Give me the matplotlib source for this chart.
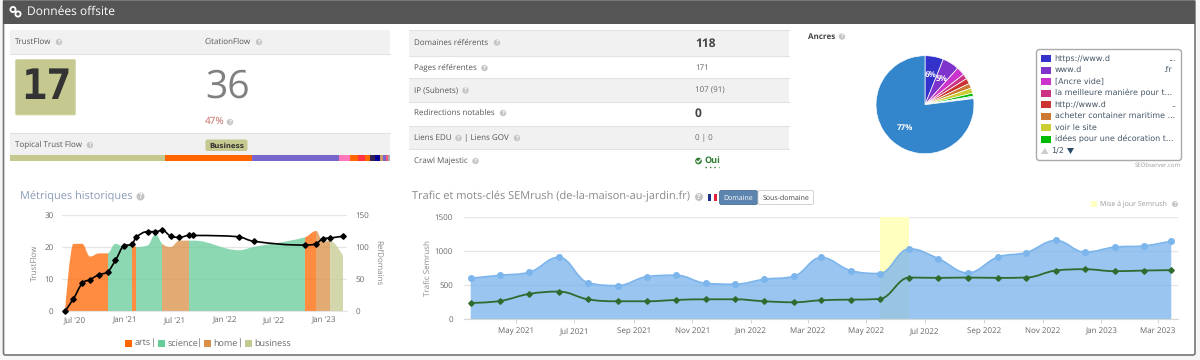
import matplotlib
matplotlib.use("Agg")
import matplotlib.pyplot as plt
import matplotlib.dates as mdates
from matplotlib.patches import Rectangle, Circle, FancyBboxPatch, PathPatch, Polygon
from matplotlib.path import Path
import pandas as pd

plt.rcParams['font.family'] = ['Open Sans', 'DejaVu Sans']
plt.rcParams['text.hinting'] = 'no_hinting'
plt.rcParams['text.hinting_factor'] = 1

# top left block
ttf_values = [465, 260, 263, 32, 25, 20, 15, 15, 15, 10, 8, 7, 5]
ttf_colors = ['#c6c98f', '#ff6600', '#7766cc', '#ff77bb', '#ff6600', '#ff3344', '#ff6600',
              '#332255', '#000099', '#cc9966', '#7766cc', '#ff5577', '#aaaaaa']

# table in the middle
table_labels = ['Domaines référents', 'Pages référentes', 'IP (Subnets)', 'Redirections notables']
table_values = ['118', '171', '107 (91)', '0']

# anchors
anchor_labels = ['https://www.d', 'www.d', '[Ancre vide]', 'la meilleure manière pour t...',
                 'http://www.d', 'acheter container maritime ...', 'voir le site',
                 'idées pour une décoration t...']
anchor_share = [6.1, 5.5, 2.8, 1.7, 1.8, 1.6, 1.7, 1.0, 0.4, 0.2, 0.2, 77.0]
anchor_colors = ['#3333cc', '#7d33cc', '#cc33cc', '#cc3385', '#cc3333', '#cc7a33', '#cccc33',
                 '#00bb00', '#33ccaa', '#33cccc', '#33aacc', '#3385cc']

# historic metrics
hist_dates = ['2020-05-25', '2020-06-25', '2020-07-27', '2020-08-25', '2020-09-27', '2020-10-28',
              '2020-11-26', '2020-12-29', '2021-01-26', '2021-02-10', '2021-03-25', '2021-04-22',
              '2021-05-17', '2021-06-17', '2021-07-19', '2021-08-22', '2021-09-08', '2022-02-24',
              '2022-04-17', '2022-10-22', '2022-12-03', '2022-12-28', '2023-01-22', '2023-03-13']
trustflow = [0, 21, 21, 17, 18, 18, 21, 20, 21, 20, 20.5, 24, 21, 20, 22, 22, 22, 19, 20, 23, 25, 21.5, 22, 17]
refdomains = [0, 19, 43, 49, 57, 61, 79, 102, 104, 115, 124, 124, 126, 117, 115, 118, 118, 116, 109, 103, 105, 113, 114, 117]
hist_topics = ['arts'] * 5 + ['science'] * 3 + ['arts'] + ['science'] * 3 + ['home'] * 3 + \
              ['science'] * 4 + ['arts'] + ['home'] * 2 + ['business']
topic_names = ['arts', 'science', 'home', 'business']
topic_colors = {'arts': '#ff6600', 'science': '#66cc99', 'home': '#d98f45', 'business': '#c6c98f'}
hist_ticks = ['2020-07-01', '2021-01-01', '2021-07-01', '2022-01-01', '2022-07-01', '2023-01-01']

# semrush
sem_dates = pd.date_range('2021-03-15', periods=25, freq=pd.DateOffset(months=1))
sem_traffic = [598, 642, 686, 906, 534, 490, 622, 642, 524, 510, 583, 627, 902, 711, 667, 1029,
               887, 676, 907, 975, 1152, 980, 1054, 1073, 1142]
sem_keywords = [235, 265, 368, 402, 289, 260, 260, 279, 289, 289, 260, 245, 275, 284, 294, 608,
                603, 608, 603, 608, 711, 730, 701, 711, 716]
sem_update = ['2022-05-15', '2022-06-15']
sem_ticks = pd.date_range('2021-05-01', '2023-03-01', freq=pd.DateOffset(months=2))


def spline_path(x, y, base=None):
    # same kind of curve as highcharts spline
    n = len(x)
    left = [(x[i], y[i]) for i in range(n)]
    right = [(x[i], y[i]) for i in range(n)]
    for i in range(1, n - 1):
        lx = (1.5 * x[i] + x[i - 1]) / 2.5
        ly = (1.5 * y[i] + y[i - 1]) / 2.5
        rx = (1.5 * x[i] + x[i + 1]) / 2.5
        ry = (1.5 * y[i] + y[i + 1]) / 2.5
        corr = (ry - ly) * (rx - x[i]) / (rx - lx) + y[i] - ry
        ly += corr
        ry += corr
        if ly > y[i] and ly > y[i - 1]:
            ly = max(y[i], y[i - 1])
            ry = 2 * y[i] - ly
        elif ly < y[i] and ly < y[i - 1]:
            ly = min(y[i], y[i - 1])
            ry = 2 * y[i] - ly
        if ry > y[i] and ry > y[i + 1]:
            ry = max(y[i], y[i + 1])
            ly = 2 * y[i] - ry
        elif ry < y[i] and ry < y[i + 1]:
            ry = min(y[i], y[i + 1])
            ly = 2 * y[i] - ry
        left[i] = (lx, ly)
        right[i] = (rx, ry)
    verts = [(x[0], y[0])]
    codes = [Path.MOVETO]
    for i in range(1, n):
        verts += [right[i - 1], left[i], (x[i], y[i])]
        codes += [Path.CURVE4] * 3
    if base is not None:
        verts += [(x[-1], base), (x[0], base), (x[0], y[0])]
        codes += [Path.LINETO, Path.LINETO, Path.CLOSEPOLY]
    return Path(verts, codes)


W, H = 1200, 360
fig = plt.figure(figsize=(W / 100, H / 100), dpi=100, facecolor='#f6f6f6')


def px_axes(x0, y0, x1, y1, **kw):
    a = fig.add_axes([x0 / W, 1 - y1 / H, (x1 - x0) / W, (y1 - y0) / H], **kw)
    a.patch.set_alpha(0)
    return a


bg = fig.add_axes([0, 0, 1, 1], zorder=0)
bg.set_xlim(0, W)
bg.set_ylim(H, 0)
bg.axis('off')
top = fig.add_axes([0, 0, 1, 1], zorder=5)
top.set_xlim(0, W)
top.set_ylim(H, 0)
top.axis('off')


def txt(x, y, s, size=5.8, color='#555555', ha='left', weight='normal', **kw):
    return top.text(x, y, s, fontsize=size, color=color, ha=ha, va='center', weight=weight, **kw)


def qmark(x, y, r=3.2):
    top.add_patch(Circle((x, y), r, fc='#c4c4c4', ec='none'))
    top.text(x, y, '?', fontsize=r * 1.35, color='white', ha='center', va='center', weight='bold')


def rect(x0, y0, x1, y1, color, z=1):
    bg.add_patch(Rectangle((x0, y0), x1 - x0, y1 - y0, fc=color, ec='none', zorder=z))


# panel and header
bg.add_patch(FancyBboxPatch((3.5, 0), 1191.5, 355, boxstyle='round,pad=0,rounding_size=2',
                            fc='white', ec='#777777', lw=1.2, zorder=0))
rect(3, 0, 1195, 24, '#555555')
rect(3, 0, 1195, 1, '#777777')
top.add_patch(Circle((13, 9.5), 2.6, fc='none', ec='white', lw=1.3))
top.add_patch(Circle((18, 14), 2.6, fc='none', ec='white', lw=1.3))
txt(27, 12, 'Données offsite', size=8.3, color='white')

# trust flow block
rect(10, 30, 390, 53.5, '#f1f1f1')
rect(10, 133, 390, 155, '#f1f1f1')
bg.plot([10, 390], [53.5, 53.5], color='#e2e2e2', lw=0.8)
bg.plot([10, 390], [133, 133], color='#e2e2e2', lw=0.8)
txt(15, 42, 'TrustFlow')
qmark(59, 42)
txt(205, 42, 'CitationFlow')
qmark(259, 42)
bg.add_patch(FancyBboxPatch((15.5, 59.5), 60, 55.5, boxstyle='round,pad=0,rounding_size=1.5',
                            fc='#c6c98f', ec='#d5d7ad', lw=0.6, zorder=2))
top.text(46, 87, '17', fontsize=30, color='#333333', ha='center', va='center', weight='bold',
         family='DejaVu Sans Mono')
txt(205, 87, '36', size=28, color='#808080')
txt(205, 121, '47%', size=7, color='#c46a64')
qmark(230, 122)
txt(15, 145, 'Topical Trust Flow')
qmark(90, 145)
bg.add_patch(FancyBboxPatch((205.5, 139.5), 42, 11.5, boxstyle='round,pad=0,rounding_size=2',
                            fc='#c6c98f', ec='none', zorder=2))
top.text(226.5, 145.5, 'Business', fontsize=5.4, color='#333333', ha='center', va='center', weight='bold',
         family='DejaVu Sans')

ax_ttf = px_axes(10, 155, 390, 160.5)
left_edge = 0
for v, c in zip(ttf_values, ttf_colors):
    ax_ttf.barh(0, v, left=left_edge, height=1, color=c, linewidth=0)
    left_edge += v
ax_ttf.set_xlim(0, left_edge)
ax_ttf.set_ylim(-0.5, 0.5)
ax_ttf.axis('off')

# middle table
rows = [(30, 56), (78, 101.5), (126, 149)]
for y0, y1 in rows:
    rect(409, y0, 789, y1, '#f1f1f1')
    bg.plot([409, 789], [y1, y1], color='#e2e2e2', lw=0.8)
    bg.plot([409, 789], [y0, y0], color='#e2e2e2', lw=0.8)
row_y = [42.5, 68, 90.5, 113]
label_q = [497, 484.5, 465.5, 503]
for yy, lab, val, qx in zip(row_y, table_labels, table_values, label_q):
    txt(414.5, yy, lab)
    qmark(qx, yy)
    big = val in ('118', '0')
    txt(695, yy + 1 if big else yy, val, size=8.4 if big else 5.8, weight='bold' if big else 'normal',
        color='#444444' if big else '#666666')
txt(414.5, 138, 'Liens EDU')
qmark(458.5, 138)
txt(464.5, 138, '| Liens GOV')
qmark(517, 138)
txt(695, 138, '0 | 0', color='#666666')
txt(414.5, 161, 'Crawl Majestic')
qmark(475.5, 161)
top.add_patch(Circle((698.5, 161), 3.3, fc='#2e7d32', ec='none'))
top.plot([696.8, 698.1, 700.4], [161, 162.5, 159.6], color='white', lw=0.9)
txt(704.5, 160.5, 'Oui', size=6.4, color='#2e7d32', weight='bold')
top.plot([704.5, 719], [167, 167], color='#2e7d32', lw=1, ls=(0, (1, 2.2)))

# anchors pie
txt(808, 36.5, 'Ancres', size=5.8, color='#444444', weight='bold')
qmark(842, 36.5)
ax_pie = px_axes(876, 55.7, 974, 153.7, zorder=3)
ax_pie.pie(anchor_share, colors=anchor_colors, startangle=90, counterclock=False, radius=1,
           wedgeprops={'edgecolor': 'white', 'linewidth': 0.5},
           autopct=lambda p: '%d%%' % int(p) if p > 5 else '', pctdistance=0.62,
           textprops={'color': 'white', 'fontsize': 6, 'weight': 'bold'})
ax_pie.set_xlim(-1.0, 1.0)
ax_pie.set_ylim(-1.0, 1.0)

top.add_patch(FancyBboxPatch((1036.5, 49.5), 145, 111, boxstyle='round,pad=0,rounding_size=3',
                             fc='white', ec='#aaaaaa', lw=1))
leg_y = [58.3, 70, 81.3, 93, 104.3, 116, 127.3, 139]
for yy, lab, c in zip(leg_y, anchor_labels, anchor_colors):
    top.add_patch(Rectangle((1041, yy - 3.5), 10, 7, fc=c, ec='none'))
    top.text(1054.7, yy, lab, fontsize=5.5, color='#445566', ha='left', va='center', family='DejaVu Sans')
top.text(1176, 58.3, '...', fontsize=5.5, color='#445566', ha='right', va='center', family='DejaVu Sans')
top.text(1172, 70, '.fr', fontsize=5.5, color='#445566', ha='right', va='center', family='DejaVu Sans')
top.text(1176, 104.3, '..', fontsize=5.5, color='#445566', ha='right', va='center', family='DejaVu Sans')
top.add_patch(Polygon([(1041, 154), (1048.5, 154), (1044.8, 148)], fc='#cccccc', ec='none'))
top.text(1051, 151.5, '1/2', fontsize=5.6, color='#445566', va='center', family='DejaVu Sans')
top.add_patch(Polygon([(1067, 148), (1074, 148), (1070.5, 154)], fc='#2b4a66', ec='none'))
txt(1181, 165, 'SEObserver.com', size=4.4, color='#999999', ha='right')

# historic chart
txt(20, 196, 'Métriques historiques', size=8.1, color='#8a9bb8')
qmark(140.5, 196.5, 4)
ax1 = px_axes(62, 215, 347, 311, zorder=3)
x1 = [float(v) for v in mdates.date2num(pd.to_datetime(hist_dates))]
ax1.set_xlim(mdates.datestr2num('2020-05-14'), mdates.datestr2num('2023-03-26'))
ax1.set_ylim(0, 30)
area = spline_path(x1, trustflow, base=0)
for i, topic in enumerate(hist_topics):
    p = PathPatch(area, fc=topic_colors[topic], ec='none', alpha=0.75, zorder=2)
    ax1.add_patch(p)
    p.set_clip_path(Rectangle((x1[i], 0), x1[i + 1] - x1[i], 30, transform=ax1.transData))
ax1.set_yticks([0, 10, 20, 30])
ax1.grid(axis='y', color='#e6e6e6', lw=1)
ax1.set_axisbelow(True)
ax1.set_xticks(mdates.date2num(pd.to_datetime(hist_ticks)))
ax1.set_xticklabels(pd.to_datetime(hist_ticks).strftime("%b '%y"))
ax1.tick_params(axis='x', length=0, labelsize=5.8, labelcolor='#666666', pad=4)
ax1.tick_params(axis='y', length=0, labelsize=5.8, labelcolor='#666666', pad=6)
for s in ax1.spines.values():
    s.set_visible(False)
ax1.spines['bottom'].set_visible(True)
ax1.spines['bottom'].set_color('#e6e6e6')

ax1b = ax1.twinx()
ax1b.set_ylim(0, 150)
ax1b.patch.set_alpha(0)
ax1b.add_patch(PathPatch(spline_path(x1, refdomains), fc='none', ec='black', lw=1.2, clip_on=False))
ax1b.plot(x1, refdomains, ls='none', marker='D', ms=2.8, color='black', clip_on=False)
ax1b.set_yticks([0, 50, 100, 150])
ax1b.tick_params(axis='y', length=0, labelsize=5.8, labelcolor='#666666', pad=6)
for s in ax1b.spines.values():
    s.set_visible(False)
txt(35, 263, 'TrustFlow', size=5.6, color='#888888', rotation=90, ha='center')
txt(378, 263, 'RefDomains', size=5.6, color='#888888', rotation=270, ha='center')

lx = [125, 158, 204, 245]
for name, xx in zip(topic_names, lx):
    top.add_patch(Rectangle((xx, 340), 7, 7, fc=topic_colors[name], ec='none'))
    txt(xx + 9.5, 343.5, name, size=6.2, color='#666666')
for xx in [153.5, 199.5, 240.5]:
    txt(xx, 343.5, '|', size=6.2, color='#666666', ha='center')

# semrush chart
txt(412, 196, 'Trafic et mots-clés SEMrush (de-la-maison-au-jardin.fr)', size=7.9, color='#888888')
qmark(699, 197, 4)
for i, c in enumerate(['#1c2f88', 'white', '#e0233a']):
    top.add_patch(Rectangle((707.5 + i * 3, 193.5), 3, 7, fc=c, ec='none'))
top.add_patch(FancyBboxPatch((719.5, 190.5), 38, 14, boxstyle='round,pad=0,rounding_size=2',
                             fc='#5b84ae', ec='#4a6f96', lw=0.6))
txt(738.5, 198, 'Domaine', size=5.4, color='white', ha='center')
top.add_patch(FancyBboxPatch((758, 190.5), 55.5, 14, boxstyle='round,pad=0,rounding_size=2',
                             fc='white', ec='#cccccc', lw=0.6))
txt(786, 198, 'Sous-domaine', size=5.4, color='#444444', ha='center')
top.add_patch(Rectangle((1091, 201), 6, 6, fc='#ffffc0', ec='none'))
txt(1099.5, 204, 'Mise à jour Semrush', size=5.2, color='#999999')
qmark(1175, 204, 3)

ax2 = px_axes(464, 216.7, 1178, 319, zorder=3)
x2 = [float(v) for v in mdates.date2num(sem_dates)]
ax2.set_xlim(mdates.datestr2num('2021-03-08'), mdates.datestr2num('2023-03-22'))
ax2.set_ylim(0, 1500)
ax2.axvspan(mdates.datestr2num(sem_update[0]), mdates.datestr2num(sem_update[1]), color='#ffffc0', lw=0, zorder=1)
ax2.add_patch(PathPatch(spline_path(x2, sem_traffic, base=0), fc='#7cb5ec', ec='none', alpha=0.78, zorder=2))
ax2.add_patch(PathPatch(spline_path(x2, sem_traffic), fc='none', ec='#7cb5ec', lw=1.2, zorder=3))
ax2.plot(x2, sem_traffic, ls='none', marker='o', ms=4, color='#7cb5ec', zorder=4)
ax2.add_patch(PathPatch(spline_path(x2, sem_keywords), fc='none', ec='#2f6b2f', lw=1.3, zorder=5))
ax2.plot(x2, sem_keywords, ls='none', marker='D', ms=2.8, color='#2f6b2f', zorder=6)
ax2.set_yticks([0, 500, 1000, 1500])
ax2.grid(axis='y', color='#e6e6e6', lw=1)
ax2.set_axisbelow(True)
ax2.set_xticks(mdates.date2num(sem_ticks))
ax2.set_xticklabels(sem_ticks.strftime('%b %Y'))
ax2.tick_params(axis='x', length=3, width=0.6, color='#cccccc', labelsize=5.6, labelcolor='#666666', pad=3)
ax2.tick_params(axis='y', length=0, labelsize=5.6, labelcolor='#666666', pad=8)
for s in ax2.spines.values():
    s.set_visible(False)
ax2.spines['bottom'].set_visible(True)
ax2.spines['bottom'].set_color('#d8d8d8')
txt(428, 268, 'Trafic Semrush', size=5.6, color='#888888', rotation=90, ha='center')

fig.savefig('out.png', dpi=100, facecolor=fig.get_facecolor())
